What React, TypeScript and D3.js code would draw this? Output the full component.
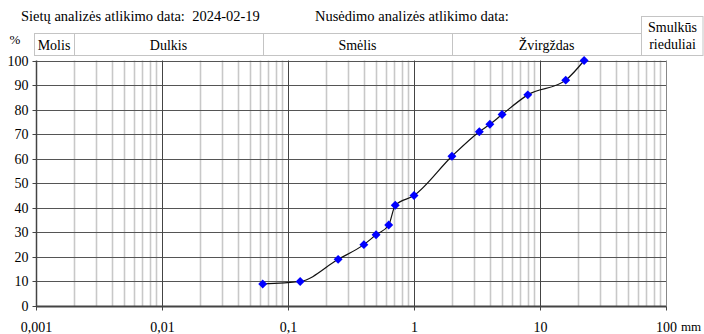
import * as d3 from 'd3';

// particle size (mm) vs passing (%)
const sizes = [0.063, 0.125, 0.25, 0.4, 0.5, 0.63, 0.71, 1, 2, 3.3, 4, 5, 8, 16, 22.4];
const passing = [9, 10, 19, 25, 29, 33, 41, 45, 61, 71, 74, 78, 86, 92, 100];

const yTicks = [0, 10, 20, 30, 40, 50, 60, 70, 80, 90, 100];
const xTicks = [0.001, 0.01, 0.1, 1, 10, 100];
const xTickLabels = ['0,001', '0,01', '0,1', '1', '10', '100'];

// soil fraction bands (mm)
const bandNames = ['Molis', 'Dulkis', 'Smėlis', 'Žvirgždas'];
const bandEdges = [0.001, 0.002, 0.063, 2, 63];

const FONT = 'Liberation Serif';

const width = 704;
const height = 334;

const x = d3.scaleLog().domain([0.001, 100]).range([36, 666]);
const y = d3.scaleLinear().domain([0, 100]).range([306, 60.5]);
const px = (v: number) => Math.round(v) + 0.5;

const txt = (size: number) => ({ fontFamily: FONT, fontSize: `${size}px` });

const App = () => {
  const minor: number[] = [];
  for (let e = -3; e < 2; e++) {
    for (let m = 2; m <= 9; m++) minor.push(m * Math.pow(10, e));
  }

  const pts = sizes.map((s, i) => [x(s), y(passing[i])] as [number, number]);
  const curve = d3.line().curve(d3.curveMonotoneX)(pts) ?? '';
  const diamond = d3.symbol().type(d3.symbolSquare).size(40)() ?? '';

  const x0 = px(x(0.001));
  const y0 = px(y(0));
  const rx = Math.round(x(63));

  return (
    <svg width={width} height={height} style={{ position: 'absolute', left: 0, top: 0 }}>
      {/* header */}
      <text x={21} y={21} style={{ ...txt(14.5), whiteSpace: 'pre' }}>
        {'Sietų analizės atlikimo data:  2024-02-19'}
      </text>
      <text x={315} y={21} style={txt(14.5)}>Nusėdimo analizės atlikimo data:</text>
      <text x={15} y={44} textAnchor="middle" style={txt(13)}>%</text>

      {/* fraction boxes */}
      {bandNames.map((name, i) => {
        const a = Math.round(i === 0 ? x(bandEdges[i]) - 2 : x(bandEdges[i]));
        const b = Math.round(x(bandEdges[i + 1]));
        return (
          <g key={name}>
            <rect x={a + 0.5} y={33.5} width={b - a} height={22} fill="none" stroke="#c4c4c4" />
            <text x={(a + b) / 2} y={50} textAnchor="middle" style={txt(14)}>{name}</text>
          </g>
        );
      })}
      <rect x={rx + 0.5} y={16.5} width={width - rx - 1.5} height={39} fill="none" stroke="#c4c4c4" />
      <text x={(rx + width) / 2} y={32} textAnchor="middle" style={txt(14)}>Smulkūs</text>
      <text x={(rx + width) / 2} y={49} textAnchor="middle" style={txt(14)}>rieduliai</text>

      {/* minor vertical grid */}
      {minor.map(d => (
        <line key={`m${d}`} x1={px(x(d))} x2={px(x(d))} y1={y(100)} y2={y(0)}
          stroke="#c8c8c8" strokeWidth={1.6} />
      ))}

      {/* horizontal grid */}
      {yTicks.slice(1).map(d => (
        <line key={`h${d}`} x1={x(0.001)} x2={x(100)} y1={px(y(d))} y2={px(y(d))}
          stroke="#555" strokeWidth={1} />
      ))}

      {/* decade lines */}
      {xTicks.slice(1).map(d => (
        <line key={`d${d}`} x1={px(x(d))} x2={px(x(d))} y1={y(100)} y2={y(0) + 4}
          stroke={d === 100 ? '#888' : '#444'} strokeWidth={1} />
      ))}

      {/* y axis */}
      <line x1={x0} x2={x0} y1={y(100)} y2={y(0)} stroke="#444" strokeWidth={1.5} />
      {yTicks.map(d => (
        <g key={`y${d}`} transform={`translate(0,${px(y(d))})`}>
          <line x1={x0 - 4} x2={x0} stroke="#444" />
          <text x={x0 - 8} dy="0.32em" textAnchor="end" style={txt(14)}>{d}</text>
        </g>
      ))}

      {/* x axis */}
      <line x1={x(0.001)} x2={x(100)} y1={y0} y2={y0} stroke="#444" strokeWidth={2} />
      {xTicks.map((d, i) => (
        <g key={`x${d}`} transform={`translate(${px(x(d))},0)`}>
          <line y1={y0} y2={y0 + 4} stroke="#444" />
          <text y={y0 + 25} textAnchor="middle" style={txt(14)}>{xTickLabels[i]}</text>
        </g>
      ))}
      <text x={681} y={331} style={txt(13)}>mm</text>

      {/* curve and points */}
      <path d={curve} fill="none" stroke="#111" strokeWidth={1.2} />
      {pts.map((p, i) => (
        <path key={`p${i}`} d={diamond} transform={`translate(${p[0]},${p[1]}) rotate(45)`} fill="#0000ff" />
      ))}
    </svg>
  );
};

export default App;
